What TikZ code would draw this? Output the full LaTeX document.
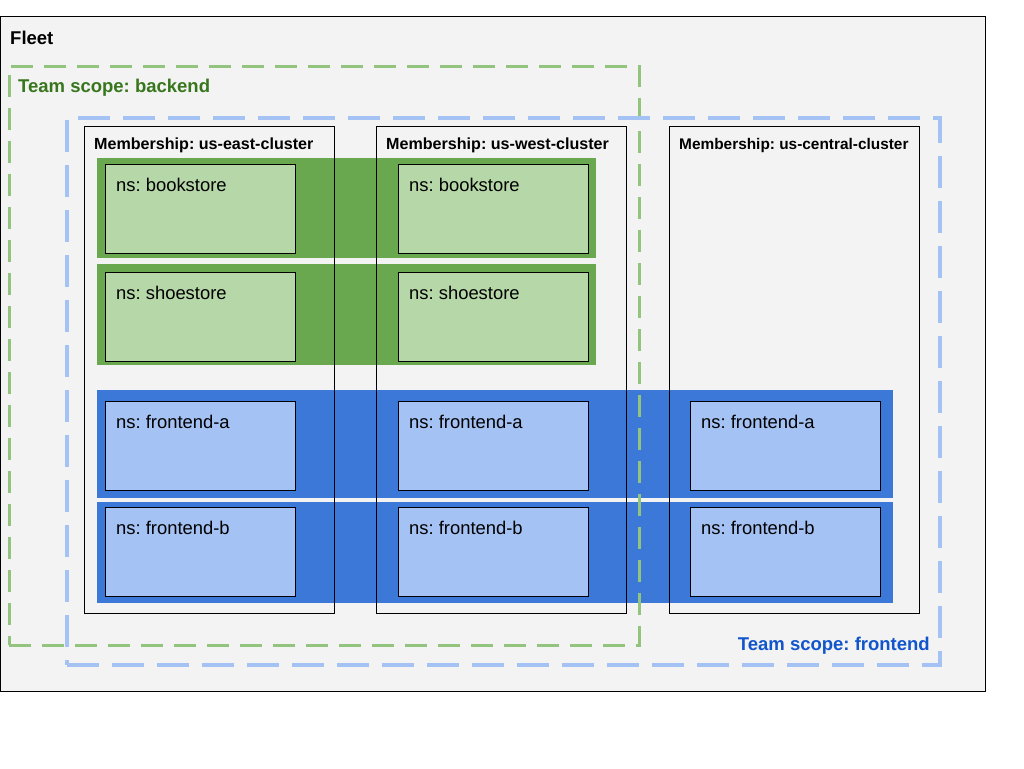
\documentclass[tikz,border=0pt]{standalone}
\usepackage{fontspec}
\setmainfont{Liberation Sans}
\usetikzlibrary{calc,positioning}
\frenchspacing

\definecolor{fleetgray}{HTML}{F3F3F3}
\definecolor{scopegreen}{HTML}{93C47D}
\definecolor{scopeblue}{HTML}{A4C2F4}
\definecolor{backtext}{HTML}{38761D}
\definecolor{fronttext}{HTML}{1155CC}
\definecolor{bandgreen}{HTML}{6AA84F}
\definecolor{nsgreen}{HTML}{B6D7A8}
\definecolor{bandblue}{HTML}{3C78D8}
\definecolor{nsblue}{HTML}{A4C2F4}

\tikzstyle{box}=[rectangle,anchor=north west,inner sep=0pt,outer sep=0pt]
\tikzstyle{fleet}=[box,draw=black,fill=fleetgray,line width=1pt]
\tikzstyle{member}=[box,draw=black,line width=1pt,minimum width=250,minimum height=487]
\tikzstyle{greenband}=[box,fill=bandgreen,minimum width=499]
\tikzstyle{blueband}=[box,fill=bandblue,minimum width=796]
\tikzstyle{greenns}=[box,draw=black,fill=nsgreen,line width=1pt,minimum width=190,minimum height=89]
\tikzstyle{bluens}=[box,draw=black,fill=nsblue,line width=1pt,minimum width=190,minimum height=89]
\tikzstyle{backscope}=[box,draw=scopegreen,line width=3pt,dash pattern=on 22pt off 11pt]
\tikzstyle{frontscope}=[box,draw=scopeblue,line width=3.3pt,dash pattern=on 32pt off 13pt]
\tikzstyle{txt}=[inner sep=0pt,anchor=base west]
\tikzstyle{title}=[txt,font=\fontsize{18.5}{21}\selectfont\bfseries]
\tikzstyle{memlabel}=[txt,font=\fontsize{16.1}{18}\selectfont\bfseries]
\tikzstyle{nslabel}=[txt,font=\fontsize{18.4}{21}\selectfont]

\begin{document}
\begin{tikzpicture}[x=1pt,y=-1pt]
      \useasboundingbox (0,0) rectangle (1024,768);
      \node [fleet,minimum width=985,minimum height=674] (fleet) at (0,17) {};
      \node [title] (fleetlbl) at ($(fleet.north west)+(10,28)$) {Fleet};

      % bands shared across memberships
      \node [greenband,minimum height=100] (book) at (97,158) {};
      \node [greenband,minimum height=101] (shoe) at (97,264) {};
      \node [blueband,minimum height=108] (fea) at (97,390) {};
      \node [blueband,minimum height=101] (feb) at (97,502) {};

      % namespaces
      \foreach \c/\x in {east/105,west/398} {
        \node [greenns] (book-\c) at (\x,164) {};
        \node [nslabel] (book-\c-lbl) at ($(book-\c.north west)+(11,27)$) {ns: bookstore};
        \node [greenns] (shoe-\c) at (\x,272) {};
        \node [nslabel] (shoe-\c-lbl) at ($(shoe-\c.north west)+(11,27)$) {ns: shoestore};
      }
      \foreach \c/\x in {east/105,west/398,central/690} {
        \node [bluens] (fea-\c) at (\x,401) {};
        \node [nslabel] (fea-\c-lbl) at ($(fea-\c.north west)+(11,27)$) {ns: frontend-a};
        \node [bluens] (feb-\c) at (\x,507) {};
        \node [nslabel] (feb-\c-lbl) at ($(feb-\c.north west)+(11,27)$) {ns: frontend-b};
      }

      % memberships
      \node [member] (east) at (84,126) {};
      \node [member] (west) at (376,126) {};
      \node [member] (central) at (669,126) {};
      \node [memlabel] (eastlbl) at ($(east.north west)+(10,23.5)$) {Membership: us-east-cluster};
      \node [memlabel] (westlbl) at ($(west.north west)+(10,23.5)$) {Membership: us-west-cluster};
      \node [memlabel,font=\fontsize{15.4}{18}\selectfont\bfseries] (centrallbl) at ($(central.north west)+(10,23.5)$) {Membership: us-central-cluster};

      % team scopes
      \node [backscope,minimum width=630,minimum height=579] (backend) at (9,66) {};
      \node [frontscope,minimum width=873,minimum height=547] (frontend) at (67,118) {};
      \node [title,text=backtext] (backlbl) at ($(backend.north west)+(9,26)$) {Team scope: backend};
      \node [title,text=fronttext,anchor=base east] (frontlbl) at ($(frontend.south east)+(-10,-15)$) {Team scope: frontend};
\end{tikzpicture}
\end{document}
